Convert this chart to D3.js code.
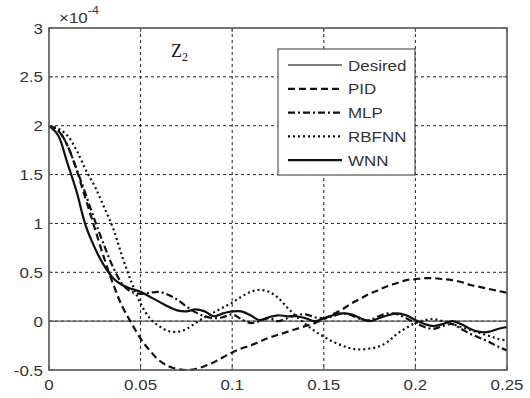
<!DOCTYPE html>
<html>
<head>
<meta charset="utf-8">
<script src="https://cdn.jsdelivr.net/npm/d3@7"></script>
<style>
  body { margin: 0; background: #fff; }
  svg { display: block; }
</style>
</head>
<body>
<div id="chart"></div>
<script>
// sample times (s)
const times = [0, 0.005, 0.01, 0.015, 0.02, 0.025, 0.03, 0.035, 0.04, 0.045,
  0.05, 0.055, 0.06, 0.065, 0.07, 0.075, 0.08, 0.085, 0.09, 0.095,
  0.1, 0.105, 0.11, 0.115, 0.12, 0.125, 0.13, 0.135, 0.14, 0.145,
  0.15, 0.155, 0.16, 0.165, 0.17, 0.175, 0.18, 0.185, 0.19, 0.195,
  0.2, 0.205, 0.21, 0.215, 0.22, 0.225, 0.23, 0.235, 0.24, 0.245, 0.25];

// values in units of 1e-4
const desiredTimes = [0, 0.25];
const desired = [0, 0];

const pid = [2, 1.95, 1.8, 1.55, 1.25, 0.95, 0.65, 0.38, 0.15, -0.02,
  -0.18, -0.3, -0.4, -0.46, -0.49, -0.5, -0.49, -0.46, -0.42, -0.37,
  -0.32, -0.28, -0.25, -0.21, -0.17, -0.14, -0.11, -0.08, -0.05, -0.02,
  0.02, 0.07, 0.12, 0.18, 0.23, 0.28, 0.32, 0.36, 0.39, 0.42,
  0.43, 0.44, 0.44, 0.43, 0.42, 0.4, 0.37, 0.35, 0.33, 0.31, 0.29];

const mlp = [2, 1.95, 1.8, 1.56, 1.3, 1.03, 0.78, 0.55, 0.38, 0.3,
  0.28, 0.29, 0.3, 0.27, 0.22, 0.15, 0.09, 0.05, 0.03, 0.04,
  0.07, 0.02, -0.02, 0, 0.03, 0, 0.03, 0.06, 0.07, 0.04,
  0.03, 0.05, 0.08, 0.06, 0.02, 0.01, 0.05, 0.08, 0.07, 0.03,
  -0.02, -0.06, -0.08, -0.05, -0.03, -0.08, -0.13, -0.17, -0.21, -0.26, -0.3];

const rbfnn = [2, 1.97, 1.9, 1.75, 1.55, 1.38, 1.17, 0.95, 0.66, 0.4,
  0.18, 0.03, -0.05, -0.1, -0.11, -0.08, -0.02, 0.04, 0.09, 0.14,
  0.19, 0.25, 0.3, 0.32, 0.3, 0.24, 0.14, 0.05, -0.03, -0.1,
  -0.16, -0.21, -0.25, -0.28, -0.29, -0.28, -0.26, -0.21, -0.13, -0.07,
  -0.02, 0.01, 0.02, 0, -0.03, -0.06, -0.09, -0.12, -0.15, -0.18, -0.2];

const wnn = [2, 1.9, 1.62, 1.33, 0.98, 0.75, 0.57, 0.44, 0.37, 0.33,
  0.3, 0.25, 0.2, 0.15, 0.11, 0.1, 0.12, 0.1, 0.05, 0.08,
  0.1, 0.1, 0.06, 0.01, 0.04, 0.06, 0.05, 0.05, 0.03, 0,
  0.03, 0.06, 0.08, 0.07, 0.03, 0, 0.03, 0.06, 0.08, 0.06,
  0.01, -0.03, -0.05, -0.03, 0, -0.03, -0.08, -0.11, -0.11, -0.08, -0.06];

const xTicks = [0, 0.05, 0.1, 0.15, 0.2, 0.25];
const xTickLabels = ["0", "0.05", "0.1", "0.15", "0.2", "0.25"];
const yTicks = [-0.5, 0, 0.5, 1, 1.5, 2, 2.5, 3];
const yTickLabels = ["-0.5", "0", "0.5", "1", "1.5", "2", "2.5", "3"];

const seriesNames = ["Desired", "PID", "MLP", "RBFNN", "WNN"];

function chart() {
    const width = 530;
    const height = 398;
    const margin = {top: 28, right: 23, bottom: 28, left: 49};
    const stretch = 1.13; // the text in the picture is a bit wide

    const x = d3.scaleLinear().domain([0, 0.25]).range([margin.left, width - margin.right]);
    const y = d3.scaleLinear().domain([-0.5, 3]).range([height - margin.bottom, margin.top]);

    const svg = d3.create("svg")
        .attr("width", width)
        .attr("height", height)
        .attr("viewBox", [0, 0, width, height])
        .style("font-family", "Arial, 'Liberation Sans', sans-serif");

    // text placed at (tx, ty) and stretched horizontally
    function label(g, tx, ty, txt, anchor) {
        return g.append("text")
            .attr("transform", `translate(${tx},${ty}) scale(${stretch},1)`)
            .attr("text-anchor", anchor || "start")
            .attr("font-size", 15)
            .attr("fill", "#333")
            .text(txt);
    }

    // grid (dotted)
    const grid = svg.append("g")
        .attr("stroke", "#222")
        .attr("stroke-width", 1)
        .attr("stroke-dasharray", "3,3");
    grid.selectAll(".gx").data(xTicks.slice(1, -1)).join("line")
        .attr("x1", d => x(d)).attr("x2", d => x(d))
        .attr("y1", y(3)).attr("y2", y(-0.5));
    grid.selectAll(".gy").data(yTicks.slice(1, -1)).join("line")
        .attr("x1", x(0)).attr("x2", x(0.25))
        .attr("y1", d => y(d)).attr("y2", d => y(d));

    // series
    const styles = {
        Desired: {data: desired, t: desiredTimes, w: 1.4, dash: null, color: "#555"},
        PID: {data: pid, t: times, w: 2.2, dash: "7,4", color: "#111"},
        MLP: {data: mlp, t: times, w: 2.2, dash: "7,3,2,3", color: "#111"},
        RBFNN: {data: rbfnn, t: times, w: 2.2, dash: "2,3", color: "#111"},
        WNN: {data: wnn, t: times, w: 2.2, dash: null, color: "#111"}
    };

    const line = d3.line()
        .x(d => x(d[0]))
        .y(d => y(d[1]))
        .curve(d3.curveCatmullRom.alpha(0.5));

    const plot = svg.append("g");
    seriesNames.forEach(name => {
        const s = styles[name];
        plot.append("path")
            .datum(s.t.map((t, i) => [t, s.data[i]]))
            .attr("fill", "none")
            .attr("stroke", s.color)
            .attr("stroke-width", s.w)
            .attr("stroke-dasharray", s.dash)
            .attr("d", line);
    });

    // axes box
    svg.append("rect")
        .attr("x", x(0)).attr("y", y(3))
        .attr("width", x(0.25) - x(0)).attr("height", y(-0.5) - y(3))
        .attr("fill", "none").attr("stroke", "#555").attr("stroke-width", 1.6);

    // inward ticks
    const ticks = svg.append("g").attr("stroke", "#555").attr("stroke-width", 1);
    xTicks.forEach(d => {
        ticks.append("line").attr("x1", x(d)).attr("x2", x(d)).attr("y1", y(-0.5)).attr("y2", y(-0.5) - 4);
        ticks.append("line").attr("x1", x(d)).attr("x2", x(d)).attr("y1", y(3)).attr("y2", y(3) + 4);
    });
    yTicks.forEach(d => {
        ticks.append("line").attr("x1", x(0)).attr("x2", x(0) + 4).attr("y1", y(d)).attr("y2", y(d));
        ticks.append("line").attr("x1", x(0.25)).attr("x2", x(0.25) - 4).attr("y1", y(d)).attr("y2", y(d));
    });

    // tick labels
    const xl = svg.append("g");
    xTicks.forEach((d, i) => label(xl, x(d), height - margin.bottom + 20, xTickLabels[i], "middle"));
    const yl = svg.append("g");
    yTicks.forEach((d, i) => label(yl, margin.left - 6, y(d) + 5.5, yTickLabels[i], "end"));

    // exponent
    const ex = label(svg, 59, 23, null);
    ex.append("tspan").text("\u00d710");
    ex.append("tspan").attr("dy", -9).attr("font-size", 11).text("-4");

    // Z2 label
    const z = svg.append("text").attr("x", 171).attr("y", 57)
        .attr("font-family", "'Liberation Serif', 'Times New Roman', serif")
        .attr("font-size", 18).attr("fill", "#111");
    z.append("tspan").text("Z");
    z.append("tspan").attr("dy", 4).attr("font-size", 12).text("2");

    // legend
    const lg = svg.append("g");
    lg.append("rect")
        .attr("x", 278).attr("y", 49).attr("width", 137).attr("height", 126)
        .attr("fill", "#fff").attr("stroke", "#555").attr("stroke-width", 1.2);
    seriesNames.forEach((name, i) => {
        const s = styles[name];
        const yy = 65 + i * 23.8;
        lg.append("line")
            .attr("x1", 288).attr("x2", 342).attr("y1", yy).attr("y2", yy)
            .attr("stroke", s.color).attr("stroke-width", s.w)
            .attr("stroke-dasharray", s.dash);
        label(lg, 348, yy + 5.5, name);
    });

    return svg.node();
}

document.getElementById("chart").appendChild(chart());
</script>
</body>
</html>
